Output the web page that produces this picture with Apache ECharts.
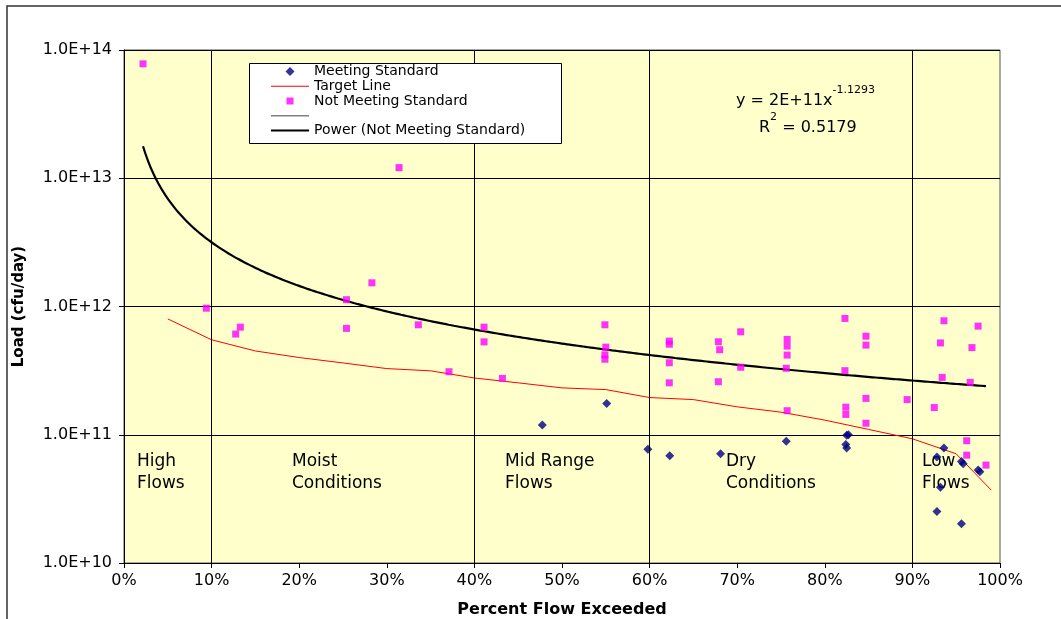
<!DOCTYPE html>
<html>
<head>
<meta charset="utf-8">
<script src="https://cdn.jsdelivr.net/npm/echarts@6/dist/echarts.min.js"></script>
<style>
  html, body { margin: 0; padding: 0; background: #ffffff; }
  #chart { width: 1061px; height: 619px; }
</style>
</head>
<body>
<div id="chart"></div>
<script>
// Load duration curve: bacteria load (cfu/day) against percent of time flow is exceeded.
const FONT = 'DejaVu Sans';

// Samples meeting the standard
const meetFlow = [0.4775, 0.551, 0.598, 0.623, 0.681, 0.756, 0.825, 0.827, 0.824, 0.825,
                  0.936, 0.928, 0.956, 0.958, 0.975, 0.977, 0.932, 0.928, 0.956];
const meetLoad = [1.19e11, 1.75e11, 7.7e10, 6.85e10, 7.1e10, 8.9e10, 9.9e10, 1.0e11, 8.4e10, 7.9e10,
                  7.9e10, 6.7e10, 6.2e10, 5.95e10, 5.3e10, 5.15e10, 3.9e10, 2.52e10, 2.02e10];

// Samples not meeting the standard
const notMeetFlow = [0.0217, 0.094, 0.1275, 0.1328, 0.254, 0.254, 0.283, 0.314, 0.336, 0.371,
                     0.411, 0.411, 0.432, 0.549, 0.55, 0.549, 0.549, 0.6225, 0.6225, 0.6225,
                     0.6225, 0.6785, 0.680, 0.6785, 0.704, 0.704, 0.757, 0.757, 0.757, 0.756,
                     0.757, 0.823, 0.823, 0.824, 0.824, 0.847, 0.847, 0.847, 0.847, 0.894,
                     0.925, 0.932, 0.936, 0.934, 0.962, 0.962, 0.966, 0.968, 0.975, 0.984];
const notMeetLoad = [7.8e13, 9.7e11, 6.1e11, 6.9e11, 1.13e12, 6.75e11, 1.53e12, 1.21e13, 7.2e11, 3.1e11,
                     6.9e11, 5.3e11, 2.75e11, 7.2e11, 4.82e11, 4.2e11, 3.88e11, 5.37e11, 5.08e11, 3.64e11,
                     2.54e11, 5.31e11, 4.6e11, 2.59e11, 6.35e11, 3.36e11, 5.54e11, 4.91e11, 4.18e11, 3.3e11,
                     1.54e11, 8.07e11, 3.16e11, 1.64e11, 1.44e11, 5.87e11, 5.0e11, 1.92e11, 1.23e11, 1.88e11,
                     1.63e11, 5.2e11, 7.74e11, 2.8e11, 8.98e10, 6.93e10, 2.56e11, 4.78e11, 7.03e11, 5.8e10];

// Target (allowable) load curve
const targetFlow = [0.05, 0.10, 0.15, 0.20, 0.25, 0.30, 0.35, 0.40, 0.45, 0.50,
                    0.55, 0.60, 0.65, 0.70, 0.75, 0.80, 0.85, 0.90, 0.95, 0.99];
const targetLoad = [8.0e11, 5.5e11, 4.5e11, 4.0e11, 3.63e11, 3.28e11, 3.15e11, 2.77e11, 2.54e11, 2.32e11,
                    2.25e11, 1.95e11, 1.88e11, 1.65e11, 1.5e11, 1.3e11, 1.1e11, 9.3e10, 7.1e10, 3.7e10];

// Power trendline fitted to the samples not meeting the standard
const trendCoef = 2.35e11;
const trendExp = -1.1293;
const trendR2 = 0.5179;

// Flow regime boundaries and names
const zoneBounds = [0.1, 0.4, 0.6, 0.9];
const zoneNames = ['High\nFlows', 'Moist\nConditions', 'Mid Range\nFlows', 'Dry\nConditions', 'Low\nFlows'];

const pairs = (xs, ys) => xs.map((x, i) => [x, ys[i]]);

const trendMin = Math.min(...notMeetFlow);
const trendMax = Math.max(...notMeetFlow);
const trendData = [];
for (let i = 0; i <= 160; i++) {
  const x = trendMin + (trendMax - trendMin) * i / 160;
  trendData.push([x, trendCoef * Math.pow(x, trendExp)]);
}

const coefText = trendCoef.toExponential(0).toUpperCase();

// Legend icons drawn in a 38x9 box (zero-length end segments fix the box size)
const ICON_FRAME = 'M0,0L0,0M38,9L38,9';
const iconDiamond = 'path://' + ICON_FRAME + 'M19,0L23.5,4.5L19,9L14.5,4.5Z';
const iconSquare = 'path://' + ICON_FRAME + 'M15.5,1L22.5,1L22.5,8L15.5,8Z';
const iconThin = 'path://' + ICON_FRAME + 'M0,4L38,4L38,5L0,5Z';
const iconMid = 'path://' + ICON_FRAME + 'M0,3.75L38,3.75L38,5.25L0,5.25Z';
const iconThick = 'path://' + ICON_FRAME + 'M0,3.5L38,3.5L38,5.5L0,5.5Z';

const chart = echarts.init(document.getElementById('chart'), null, { renderer: 'canvas' });

const zoneLeft = [137, 292, 505, 726, 922];

chart.setOption({
  animation: false,
  textStyle: { fontFamily: FONT, color: '#000' },
  grid: {
    left: 124, right: 61, top: 50, bottom: 56,
    outerBoundsMode: 'none',
    show: true, backgroundColor: '#FFFFCC', borderColor: '#555555', borderWidth: 1
  },
  legend: {
    orient: 'vertical',
    left: 271, top: 64,
    padding: 0,
    itemGap: 0,
    itemWidth: 38,
    itemHeight: 9,
    z: 12,
    textStyle: { fontFamily: FONT, fontSize: 14, lineHeight: 14.8, color: '#000' },
    data: [
      { name: 'Meeting Standard', icon: iconDiamond },
      { name: 'Target Line', icon: iconThin },
      { name: 'Not Meeting Standard', icon: iconSquare },
      { name: ' ', icon: iconMid },
      { name: 'Power (Not Meeting Standard)', icon: iconThick }
    ]
  },
  xAxis: {
    type: 'value', min: 0, max: 1, interval: 0.1,
    name: 'Percent Flow Exceeded', nameLocation: 'middle', nameGap: 39,
    nameTextStyle: { fontFamily: FONT, fontSize: 16, fontWeight: 'bold', color: '#000' },
    axisLine: { show: true, lineStyle: { color: '#000', width: 1 } },
    axisTick: { show: true, length: 5, lineStyle: { color: '#000' } },
    axisLabel: { fontSize: 16, color: '#000', margin: 10,
                 formatter: v => Math.round(v * 100) + '%' },
    splitLine: { show: false }
  },
  yAxis: {
    type: 'log', logBase: 10, min: 1e10, max: 1e14,
    name: 'Load (cfu/day)', nameLocation: 'middle', nameGap: 97,
    nameTextStyle: { fontFamily: FONT, fontSize: 15, fontWeight: 'bold', color: '#000' },
    axisLine: { show: true, lineStyle: { color: '#000', width: 1 } },
    axisTick: { show: true, length: 5, lineStyle: { color: '#000' } },
    axisLabel: { fontSize: 16, color: '#000', margin: 12,
                 formatter: v => '1.0E+' + Math.round(Math.log10(v)) },
    splitLine: { show: true, lineStyle: { color: '#000', width: 1 } },
    minorTick: { show: false }
  },
  series: [
    {
      name: 'Meeting Standard', type: 'scatter',
      symbol: 'diamond', symbolSize: 9,
      itemStyle: { color: '#000080' },
      data: pairs(meetFlow, meetLoad), z: 4,
      markLine: {
        silent: true, symbol: 'none', label: { show: false },
        lineStyle: { color: '#000', width: 1, type: 'solid' },
        data: zoneBounds.map(b => ({ xAxis: b }))
      }
    },
    {
      name: 'Target Line', type: 'line',
      symbol: 'none', smooth: false,
      lineStyle: { color: '#FF0000', width: 1 },
      itemStyle: { color: '#FF0000' },
      data: pairs(targetFlow, targetLoad), z: 3
    },
    {
      name: 'Not Meeting Standard', type: 'scatter',
      symbol: 'rect', symbolSize: 7,
      itemStyle: { color: '#FF00FF' },
      data: pairs(notMeetFlow, notMeetLoad), z: 4
    },
    {
      name: ' ', type: 'line', symbol: 'none',
      lineStyle: { color: '#808080', width: 1.5 },
      itemStyle: { color: '#808080' },
      data: []
    },
    {
      name: 'Power (Not Meeting Standard)', type: 'line',
      symbol: 'none', smooth: true,
      lineStyle: { color: '#000000', width: 2.2 },
      itemStyle: { color: '#000000' },
      data: trendData, z: 3
    }
  ],
  graphic: [
    // outer chart frame
    { type: 'rect', z: 0, silent: true,
      shape: { x: 7, y: 6, width: 1100, height: 700 },
      style: { fill: 'none', stroke: '#333333', lineWidth: 1.5 } },
    // legend box
    { type: 'rect', z: 10, silent: true,
      shape: { x: 249.5, y: 63.5, width: 312, height: 80 },
      style: { fill: '#ffffff', stroke: '#000000', lineWidth: 1 } },
    // trendline equation
    { type: 'text', z: 6, left: 736, top: 85, silent: true,
      style: {
        text: '{m|y = ' + coefText + 'x}{s|' + trendExp + '}',
        rich: {
          m: { fontFamily: FONT, fontSize: 16, lineHeight: 24, verticalAlign: 'bottom', fill: '#000' },
          s: { fontFamily: FONT, fontSize: 11, lineHeight: 24, verticalAlign: 'top', fill: '#000' }
        }
      } },
    { type: 'text', z: 6, left: 759, top: 112, silent: true,
      style: {
        text: '{m|R}{s|2}{m| = ' + trendR2 + '}',
        rich: {
          m: { fontFamily: FONT, fontSize: 16, lineHeight: 24, verticalAlign: 'bottom', fill: '#000' },
          s: { fontFamily: FONT, fontSize: 11, lineHeight: 24, verticalAlign: 'top', fill: '#000' }
        }
      } },
    // flow regime names
    ...zoneNames.map((t, i) => ({
      type: 'text', z: 3, left: zoneLeft[i], top: 451, silent: true,
      style: { text: t, fontFamily: FONT, fontSize: 17, lineHeight: 22, fill: '#000' }
    }))
  ]
});
</script>
</body>
</html>
